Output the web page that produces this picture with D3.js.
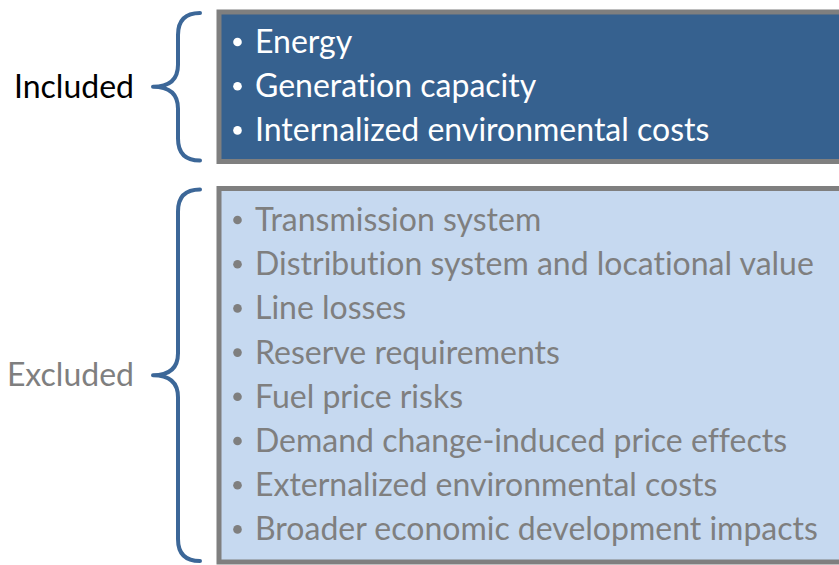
<!DOCTYPE html>
<html>
<head>
<meta charset="utf-8">
<script src="https://cdn.jsdelivr.net/npm/d3@7"></script>
<style>
  body { margin: 0; background: #fff; }
  svg { display: block; }
  text { font-variant-ligatures: none; }
</style>
</head>
<body>
<div id="chart"></div>
<script>
// items in each group
var included = ["Energy", "Generation capacity", "Internalized environmental costs"];
var excluded = [
    "Transmission system",
    "Distribution system and locational value",
    "Line losses",
    "Reserve requirements",
    "Fuel price risks",
    "Demand change-induced price effects",
    "Externalized environmental costs",
    "Broader economic development impacts"
];
var groupLabels = ["Included", "Excluded"];

var width = 839, height = 565;
var font = "Lato, 'Open Sans', sans-serif";
var fontSize = 32;

var svg = d3.select("#chart").append("svg")
    .attr("width", width)
    .attr("height", height);

var groups = [
    { label: groupLabels[0], items: included, top: 12, bottom: 161.5,
      fill: "#36618f", text: "#ffffff", labelColor: "#000000", firstBase: 53 },
    { label: groupLabels[1], items: excluded, top: 188.5, bottom: 562,
      fill: "#c6d9f0", text: "#7f7f7f", labelColor: "#7f7f7f", firstBase: 231 }
];

var lineStep = 44.2;

// draws a curly brace opening to the right
function brace(x, y0, y1, tip) {
    var p = d3.path();
    var r = 22, mid = (y0 + y1) / 2;
    p.moveTo(x + r, y0);
    p.quadraticCurveTo(x, y0, x, y0 + r);
    p.lineTo(x, mid - r);
    p.quadraticCurveTo(x, mid, tip, mid);
    p.quadraticCurveTo(x, mid, x, mid + r);
    p.lineTo(x, y1 - r);
    p.quadraticCurveTo(x, y1, x + r, y1);
    return p.toString();
}

groups.forEach(function (g) {
    // box
    svg.append("rect")
        .attr("x", 219)
        .attr("y", g.top)
        .attr("width", 700)
        .attr("height", g.bottom - g.top)
        .attr("fill", g.fill)
        .attr("stroke", "#7f7f7f")
        .attr("stroke-width", 5);

    // item positions
    var y = d3.scaleLinear()
        .domain([0, 1])
        .range([g.firstBase, g.firstBase + lineStep]);

    var rows = svg.append("g").selectAll("g")
        .data(g.items)
        .enter().append("g")
        .attr("transform", function (d, i) { return "translate(0," + y(i) + ")"; });

    rows.append("circle")
        .attr("cx", 237.5)
        .attr("cy", -11)
        .attr("r", 4.3)
        .attr("fill", g.text);

    rows.append("text")
        .attr("x", 255)
        .attr("y", 0)
        .attr("fill", g.text)
        .style("font-family", font)
        .style("font-size", fontSize + "px")
        .text(function (d) { return d; });

    // brace
    svg.append("path")
        .attr("d", brace(178, g.top + 1, g.bottom - 1, 153))
        .attr("fill", "none")
        .attr("stroke", "#3c6798")
        .attr("stroke-width", 4)
        .attr("stroke-linecap", "round")
        .attr("stroke-linejoin", "round");

    // group label
    svg.append("text")
        .attr("x", 134)
        .attr("y", (g.top + g.bottom) / 2 + 11)
        .attr("text-anchor", "end")
        .attr("fill", g.labelColor)
        .style("font-family", font)
        .style("font-size", fontSize + "px")
        .text(g.label);
});
</script>
</body>
</html>
